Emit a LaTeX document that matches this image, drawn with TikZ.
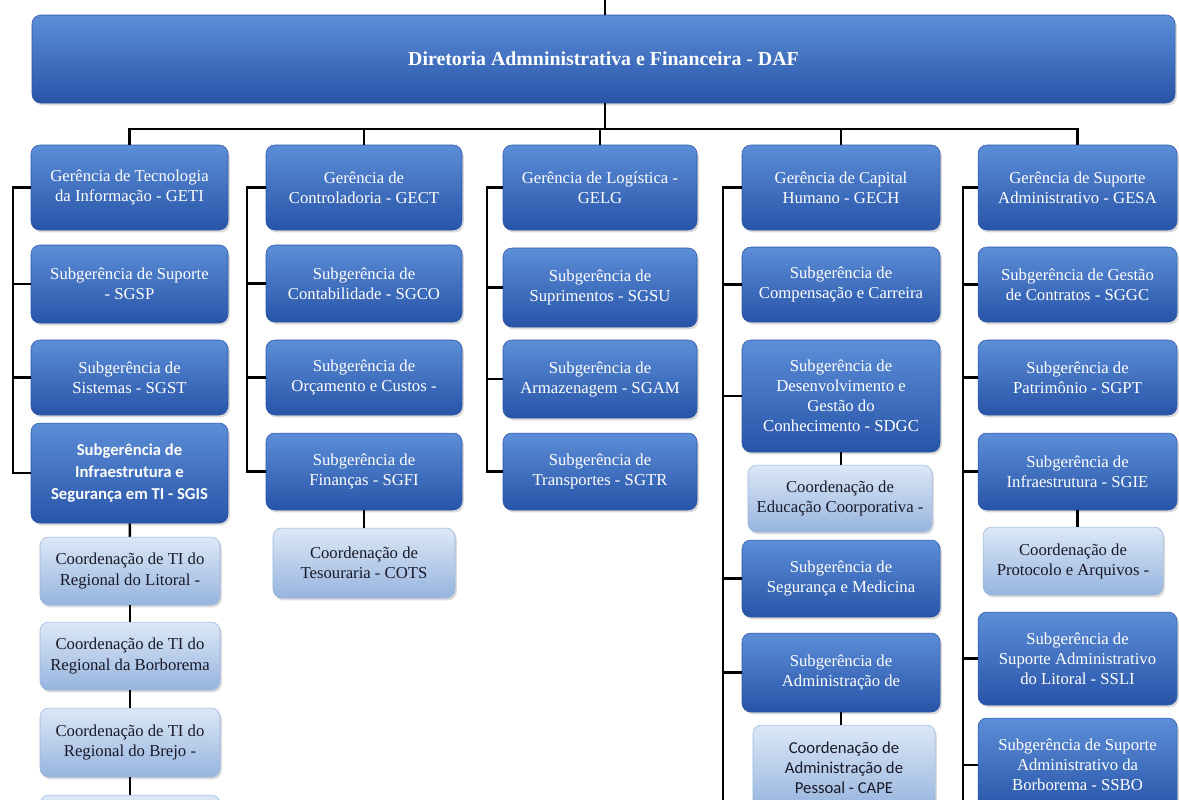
\documentclass[tikz,border=0pt]{standalone}
\usepackage{fontspec}
\setmainfont{Liberation Serif}
\newfontfamily\calibri{Carlito}
\usetikzlibrary{shadows}
\definecolor{UnitTop}{RGB}{92,142,216}
\definecolor{UnitMid}{RGB}{60,110,200}
\definecolor{UnitBot}{RGB}{40,84,168}
\definecolor{CoordTop}{RGB}{220,232,247}
\definecolor{CoordMid}{RGB}{188,208,236}
\definecolor{CoordBot}{RGB}{150,180,222}
\definecolor{CoordText}{RGB}{25,25,40}

\tikzset{
  wh/.style 2 args={minimum width=#1*0.02cm, minimum height=#2*0.02cm, inner sep=0pt},
  unit/.style={rounded corners=5pt, top color=UnitTop, middle color=UnitMid, bottom color=UnitBot,
    draw=UnitBot, line width=0.3pt, text=white, align=center,
    font=\fontsize{9.5}{11.4}\selectfont,
    drop shadow={opacity=0.3, shadow xshift=1pt, shadow yshift=-1.3pt}},
  coord/.style={unit, top color=CoordTop, middle color=CoordMid, bottom color=CoordBot,
    draw=CoordBot, text=CoordText},
  link/.style={draw=black, line width=1.4pt}
}

\begin{document}
\begin{tikzpicture}[x=0.02cm, y=-0.02cm]
  \useasboundingbox (0,0) rectangle (1179,799);
  \clip (0,0) rectangle (1179,799);

  % directorate
  \node[unit, wh={1143}{88}, font=\bfseries\fontsize{11.3}{13}\selectfont] (daf) at (603.5,59)
    {Diretoria Admninistrativa e Financeira - DAF};

  % GETI column
  \node[unit, wh={197}{85}] (geti) at (129.5,187.5) {Gerência de Tecnologia\\da Informação - GETI};
  \node[unit, wh={197}{78}] (sgsp) at (129.5,284) {Subgerência de Suporte\\- SGSP};
  \node[unit, wh={197}{75}] (sgst) at (129.5,377.5) {Subgerência de\\Sistemas - SGST};
  \node[unit, wh={197}{100}, font=\calibri\bfseries\fontsize{9.5}{12.6}\selectfont] (sgis) at (129.5,473)
    {Subgerência de\\Infraestrutura e\\Segurança em TI - SGIS};
  \node[coord, wh={180}{68}] (ctlit) at (130,571) {Coordenação de TI do\\Regional do Litoral -};
  \node[coord, wh={180}{68}] (ctbor) at (130,656) {Coordenação de TI do\\Regional da Borborema};
  \node[coord, wh={180}{69}] (ctbre) at (130,742.5) {Coordenação de TI do\\Regional do Brejo -};
  \node[coord, wh={180}{69}] (ctnext) at (130,829.5) {};

  % GECT column
  \node[unit, wh={196}{85}] (gect) at (364,187.5) {Gerência de\\Controladoria - GECT};
  \node[unit, wh={196}{77}] (sgco) at (364,283.5) {Subgerência de\\Contabilidade - SGCO};
  \node[unit, wh={196}{75}] (sgoc) at (364,377.5) {Subgerência de\\Orçamento e Custos -};
  \node[unit, wh={196}{77}] (sgfi) at (364,471.5) {Subgerência de\\Finanças - SGFI};
  \node[coord, wh={182}{70}] (cots) at (364,563) {Coordenação de\\Tesouraria - COTS};

  % GELG column
  \node[unit, wh={194}{85}] (gelg) at (600,187.5) {Gerência de Logística -\\GELG};
  \node[unit, wh={194}{79}] (sgsu) at (600,287.5) {Subgerência de\\Suprimentos - SGSU};
  \node[unit, wh={194}{78}] (sgam) at (600,379) {Subgerência de\\Armazenagem - SGAM};
  \node[unit, wh={194}{77}] (sgtr) at (600,471.5) {Subgerência de\\Transportes - SGTR};

  % GECH column
  \node[unit, wh={198}{85}] (gech) at (841,187.5) {Gerência de Capital\\Humano - GECH};
  \node[unit, wh={198}{75}] (sgcc) at (841,284.5) {Subgerência de\\Compensação e Carreira};
  \node[unit, wh={198}{112}] (sdgc) at (841,396) {Subgerência de\\Desenvolvimento e\\Gestão do\\Conhecimento - SDGC};
  \node[coord, wh={184}{67}] (coec) at (840,498.5) {Coordenação de\\Educação Coorporativa -};
  \node[unit, wh={198}{77}] (sgsm) at (841,578.5) {Subgerência de\\Segurança e Medicina};
  \node[unit, wh={198}{79}] (sgad) at (841,672.5) {Subgerência de\\Administração de};
  \node[coord, wh={182}{85}, font=\calibri\fontsize{9.5}{11.3}\selectfont] (cape) at (844,767.5)
    {Coordenação de\\Administração de\\Pessoal - CAPE};

  % GESA column
  \node[unit, wh={199}{85}] (gesa) at (1077.5,187.5) {Gerência de Suporte\\Administrativo - GESA};
  \node[unit, wh={199}{75}] (sggc) at (1077.5,284.5) {Subgerência de Gestão\\de Contratos - SGGC};
  \node[unit, wh={199}{75}] (sgpt) at (1077.5,377.5) {Subgerência de\\Patrimônio - SGPT};
  \node[unit, wh={199}{77}] (sgie) at (1077.5,471.5) {Subgerência de\\Infraestrutura - SGIE};
  \node[coord, wh={180}{68}] (copa) at (1073,561) {Coordenação de\\Protocolo e Arquivos -};
  \node[unit, wh={199}{93}] (ssli) at (1077.5,658.5) {Subgerência de\\Suporte Administrativo\\do Litoral - SSLI};
  \node[unit, wh={199}{94}] (ssbo) at (1077.5,765) {Subgerência de Suporte\\Administrativo da\\Borborema - SSBO};

  % top bus
  \coordinate (above) at (605,0);
  \coordinate (bus) at (605,129);
  \draw[link] (above) -- (daf.north -| above);
  \draw[link] (daf.south -| bus) -- (bus);
  \foreach \g in {geti,gect,gelg,gech,gesa}
    \draw[link] (bus) -| (\g.north);

  % side spines
  \foreach \s in {sgsp,sgst,sgis} \draw[link] (geti.west) -- ++(-18,0) |- (\s.west);
  \foreach \s in {sgco,sgoc,sgfi} \draw[link] (gect.west) -- ++(-19,0) |- (\s.west);
  \foreach \s in {sgsu,sgam,sgtr} \draw[link] (gelg.west) -- ++(-16,0) |- (\s.west);
  \coordinate (endgech) at (723,810);
  \coordinate (endgesa) at (963,810);
  \draw[link] (gech.west) -| (endgech);
  \foreach \s in {sgcc,sdgc,sgsm,sgad} \draw[link] (\s.west) -- (\s.west -| endgech);
  \draw[link] (gesa.west) -| (endgesa);
  \foreach \s in {sggc,sgpt,sgie,ssli,ssbo} \draw[link] (\s.west) -- (\s.west -| endgesa);

  % coordinations below their units
  \draw[link] (sgis) -- (ctlit);
  \draw[link] (ctlit) -- (ctbor);
  \draw[link] (ctbor) -- (ctbre);
  \draw[link] (ctbre) -- (ctnext);
  \draw[link] (sgfi) -- (cots);
  \draw[link] (sdgc.south) -- (sdgc.south |- coec.north);
  \draw[link] (sgad.south) -- (sgad.south |- cape.north);
  \draw[link] (sgie.south) -- (sgie.south |- copa.north);
\end{tikzpicture}
\end{document}
